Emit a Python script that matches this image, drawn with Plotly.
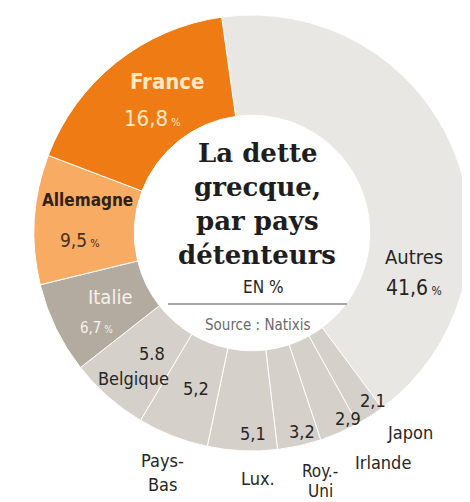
import plotly.graph_objects as go

labels = ["Autres", "Japon", "Irlande", "Roy.-Uni", "Lux.", "Pays-Bas", "Belgique", "Italie", "Allemagne", "France"]
values = [41.6, 2.1, 2.9, 3.2, 5.1, 5.2, 5.8, 6.7, 9.5, 16.8]
colors = ["#e9e7e3", "#d5d0ca", "#d5d0ca", "#d5d0ca", "#d5d0ca", "#d5d0ca", "#d5d0ca",
          "#b3aaa0", "#f8ab63", "#ee7b14"]

title_lines = ["La dette", "grecque,", "par pays", "détenteurs"]
unit_text = "EN %"
source_text = "Source : Natixis"

OFF = 8                      # page body margin
W, H = 470 - OFF, 502 - OFF  # figure size fitting in the window
cx, cy, R = 252, 233, 218    # pie geometry in screenshot pixels

def px(x):
    return (x - OFF) / W

def py(y):
    return 1 - (y - OFF) / H

fig = go.Figure()
fig.add_trace(go.Pie(
    labels=labels, values=values, sort=False, direction="clockwise", rotation=-8,
    hole=0.54, marker=dict(colors=colors, line=dict(color="white", width=1)),
    textinfo="none", hoverinfo="label+value", showlegend=False,
    domain=dict(x=[max(0, px(cx - R)), min(1, px(cx + R))], y=[max(0, py(cy + R)), min(1, py(cy - R))]),
))

def fmt(v):
    return f"{v:.1f}".replace(".", ",")

NARROW = "Liberation Sans Narrow, DejaVu Sans Condensed, Arial Narrow, sans-serif"
ann = []

def add(x, y, text, size, color, family=NARROW):
    ann.append(dict(x=px(x), y=py(y), xref="paper", yref="paper", text=text,
                    showarrow=False, font=dict(size=size, color=color, family=family),
                    xanchor="center", yanchor="middle"))

v = dict(zip(labels, values))
pct = lambda s: f"<span style='font-size:{s}px'> %</span>"

DARK = "#262626"
# big slices
add(167, 82, "<b>France</b>", 22, "#fde8c4")
add(152, 118, fmt(v["France"]) + pct(11), 22, "#fde8c4")
add(87, 200, "<b>Allemagne</b>", 17, "#2e2218")
add(80, 240, fmt(v["Allemagne"]) + pct(11), 19, "#4a3020")
add(110, 297, "Italie", 20, "#f6f2ec")
add(96, 328, fmt(v["Italie"]) + pct(10), 15, "#f6f2ec")
add(414, 257, "Autres", 20, DARK)
add(414, 288, fmt(v["Autres"]) + pct(12), 21, DARK)

# small slices values
add(152, 353, f"{v['Belgique']:.1f}", 18, DARK)
add(133, 378, "Belgique", 18, DARK)
add(196, 388, fmt(v["Pays-Bas"]), 18, DARK)
add(253, 433, fmt(v["Lux."]), 18, DARK)
add(302, 431, fmt(v["Roy.-Uni"]), 18, DARK)
add(348, 418, fmt(v["Irlande"]), 18, DARK)
add(373, 400, fmt(v["Japon"]), 18, DARK)

# outer labels
add(410, 432, "Japon", 18, DARK)
add(383, 462, "Irlande", 18, DARK)
add(320, 471, "Roy.-", 17, DARK)
add(320, 491, "Uni", 17, DARK)
add(258, 478, "Lux.", 18, DARK)
add(162, 460, "Pays-", 18, DARK)
add(162, 484, "Bas", 18, DARK)

# center text
SERIF = "DejaVu Serif, serif"
for i, t in enumerate(title_lines):
    add(257, 153 + i * 34, f"<b>{t}</b>", 26, "#1e1e1e", SERIF)
add(263, 287, unit_text, 17, DARK)
add(258, 325, source_text, 15, "#6a6a6a")

fig.add_shape(type="line", xref="paper", yref="paper",
              x0=px(168), x1=px(347), y0=py(304), y1=py(304),
              line=dict(color="#8a8a8a", width=1.5))

fig.update_layout(width=W, height=H, margin=dict(l=0, r=0, t=0, b=0),
                  paper_bgcolor="white", plot_bgcolor="white", annotations=ann)
fig.write_html("out.html")
